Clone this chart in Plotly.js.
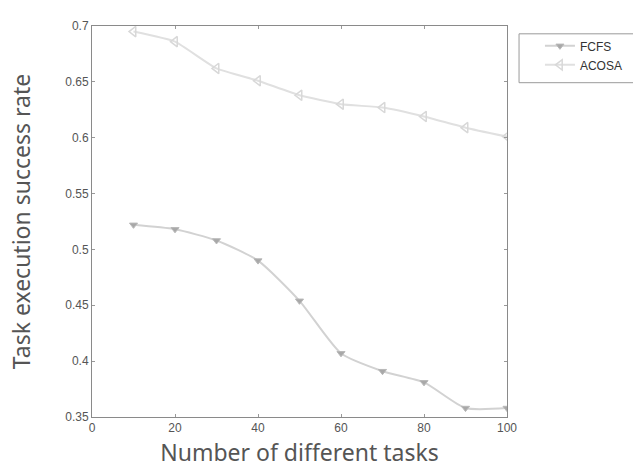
<!DOCTYPE html>
<html><head><meta charset="utf-8">
<script src="https://cdn.plot.ly/plotly-3.0.1.min.js"></script>
<style>html,body{margin:0;padding:0;background:#fff}#c{width:633px;height:468px}</style>
</head><body><div id="c"></div>
<script>
const tasks = [10, 20, 30, 40, 50, 60, 70, 80, 90, 100];
const fcfs = [0.522, 0.518, 0.508, 0.490, 0.454, 0.407, 0.391, 0.381, 0.358, 0.358];
const acosa = [0.695, 0.686, 0.662, 0.651, 0.638, 0.630, 0.627, 0.619, 0.609, 0.601];
const xTicks = [0, 20, 40, 60, 80, 100];
const yTicks = [0.35, 0.4, 0.45, 0.5, 0.55, 0.6, 0.65, 0.7];

const traces = [
  {x: tasks, y: fcfs, name: 'FCFS', mode: 'lines+markers',
   line: {color: '#d2d2d2', width: 2, shape: 'spline', smoothing: 0.6},
   marker: {symbol: 'triangle-down', size: 7, color: '#a8a8a8', line: {color: '#b8b8b8', width: 1}}},
  {x: tasks, y: acosa, name: 'ACOSA', mode: 'lines+markers',
   line: {color: '#e0e0e0', width: 2, shape: 'spline', smoothing: 0.4},
   marker: {symbol: 'triangle-left-open', size: 9, color: '#d8d8d8', line: {color: '#d8d8d8', width: 1.5}}}
];

const axisCommon = {
  showgrid: false, zeroline: false, showline: true, linecolor: '#8a8a8a', linewidth: 1,
  mirror: 'allticks', ticks: 'inside', ticklen: 3, tickcolor: '#999',
  tickfont: {family: 'Liberation Sans, Arial, sans-serif', size: 12, color: '#555'}
};

const layout = {
  width: 633, height: 468,
  margin: {l: 92, r: 126, t: 26, b: 51},
  paper_bgcolor: '#fff', plot_bgcolor: '#fff',
  showlegend: true,
  legend: {xref: 'container', yref: 'container', x: 0.853, y: 0.933, xanchor: 'left', yanchor: 'top',
    borderwidth: 0, bgcolor: 'rgba(0,0,0,0)',
    font: {family: 'Liberation Sans, Arial, sans-serif', size: 12, color: '#333'},
    tracegroupgap: 0, itemwidth: 30},
  shapes: [
    {type: 'rect', xref: 'paper', yref: 'paper', x0: 1.029, x1: 1.35, y0: 0.855, y1: 0.98,
     line: {color: '#9a9a9a', width: 1}, fillcolor: 'rgba(0,0,0,0)', layer: 'below'}
  ],
  xaxis: Object.assign({}, axisCommon, {
    range: [0, 100], tickvals: xTicks, ticktext: xTicks.map(String), automargin: false,
    title: {text: 'Number of different tasks', standoff: 17,
      font: {family: 'Noto Sans, DejaVu Sans, sans-serif', size: 23, color: '#555'}}
  }),
  yaxis: Object.assign({}, axisCommon, {
    range: [0.35, 0.7], tickvals: yTicks, ticktext: yTicks.map(v => String(v)), automargin: false,
    title: {text: 'Task execution success rate', standoff: 28,
      font: {family: 'Noto Sans, DejaVu Sans, sans-serif', size: 23, color: '#555'}}
  })
};

Plotly.newPlot('c', traces, layout, {displayModeBar: false, staticPlot: true});
</script>
</body></html>
